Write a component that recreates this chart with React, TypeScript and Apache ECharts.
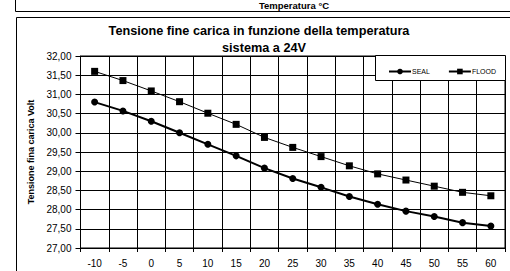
import React, { useEffect, useRef } from "react";
import * as echarts from "echarts";

const categories = ["-10", "-5", "0", "5", "10", "15", "20", "25", "30", "35", "40", "45", "50", "55", "60"];
const sealValues = [30.8, 30.57, 30.3, 30.0, 29.7, 29.4, 29.08, 28.81, 28.58, 28.34, 28.14, 27.96, 27.82, 27.66, 27.57];
const floodValues = [31.6, 31.36, 31.09, 30.81, 30.51, 30.22, 29.88, 29.62, 29.38, 29.14, 28.93, 28.77, 28.61, 28.45, 28.36];
const titleLine1 = "Tensione fine carica in funzione della temperatura";
const titleLine2 = "sistema a 24V";
const yTitle = "Tensione fina carica Volt";
const prevXTitle = "Temperatura °C";

const FONT = "'Liberation Sans', Arial, sans-serif";

export default function App() {
  const ref = useRef<HTMLDivElement>(null);
  useEffect(() => {
    if (!ref.current) return;
    const chart = echarts.init(ref.current, null, { renderer: "svg" });
    chart.setOption({
      animation: false,
      backgroundColor: "#ffffff",
      textStyle: { fontFamily: FONT },
      grid: {
        left: 80.5,
        top: 56,
        right: 5,
        bottom: 23,
        show: true,
        borderColor: "#000",
        borderWidth: 1,
        backgroundColor: "transparent",
      },
      xAxis: {
        type: "category",
        data: categories,
        boundaryGap: true,
        axisLine: { show: true, lineStyle: { color: "#000", width: 1 } },
        axisTick: { show: true, length: 4, interval: 0, lineStyle: { color: "#000" } },
        axisLabel: { interval: 0, color: "#000", fontSize: 10, fontFamily: FONT, margin: 10 },
        splitLine: { show: true, interval: 0, lineStyle: { color: "#000", width: 1 } },
      },
      yAxis: {
        type: "value",
        min: 27,
        max: 32,
        interval: 0.5,
        name: yTitle,
        nameLocation: "middle",
        nameRotate: 90,
        nameGap: 45,
        nameTextStyle: { fontSize: 9, fontWeight: "bold", color: "#000", fontFamily: FONT },
        axisLine: { show: true, lineStyle: { color: "#000", width: 1 } },
        axisTick: { show: true, length: 5, lineStyle: { color: "#000" } },
        axisLabel: {
          color: "#000",
          fontSize: 10,
          fontFamily: FONT,
          margin: 9,
          formatter: (v: number) => v.toFixed(2).replace(".", ","),
        },
        splitLine: { show: true, lineStyle: { color: "#000", width: 1 } },
      },
      legend: {
        left: 383,
        top: 63,
        z: 10,
        itemWidth: 22,
        itemHeight: 7,
        itemGap: 18,
        textStyle: { fontSize: 7, color: "#000", fontFamily: FONT, padding: [0, 0, 0, -4] },
        data: ["SEAL", "FLOOD"],
      },
      graphic: [
        {
          type: "rect",
          z: 0,
          shape: { x: 15.5, y: -5, width: 510, height: 16.5 },
          style: { fill: "#fff", stroke: "#000", lineWidth: 1 },
        },
        {
          type: "text",
          z: 1,
          x: 294,
          y: 5.5,
          style: {
            text: prevXTitle,
            fontSize: 9.5,
            fontWeight: "bold",
            fontFamily: FONT,
            fill: "#000",
            align: "center",
            verticalAlign: "middle",
          },
        },
        {
          type: "rect",
          z: -1,
          silent: true,
          shape: { x: 16.5, y: 17.5, width: 510, height: 270 },
          style: { fill: "transparent", stroke: "#000", lineWidth: 1 },
        },
        {
          type: "text",
          x: 259,
          y: 31,
          style: {
            text: titleLine1,
            fontSize: 12.7,
            fontWeight: "bold",
            fontFamily: FONT,
            fill: "#000",
            align: "center",
            verticalAlign: "middle",
          },
        },
        {
          type: "text",
          x: 264,
          y: 48,
          style: {
            text: titleLine2,
            fontSize: 12.7,
            fontWeight: "bold",
            fontFamily: FONT,
            fill: "#000",
            align: "center",
            verticalAlign: "middle",
          },
        },
        {
          type: "rect",
          z: 9,
          shape: { x: 375.5, y: 55.5, width: 130, height: 25 },
          style: { fill: "#fff", stroke: "#000", lineWidth: 1 },
        },
      ],
      series: [
        {
          name: "SEAL",
          type: "line",
          data: sealValues,
          symbol: "circle",
          symbolSize: 7,
          lineStyle: { color: "#000", width: 2 },
          itemStyle: { color: "#000" },
          z: 3,
        },
        {
          name: "FLOOD",
          type: "line",
          data: floodValues,
          symbol: "rect",
          symbolSize: 7,
          lineStyle: { color: "#000", width: 1 },
          itemStyle: { color: "#000" },
          z: 3,
        },
      ],
    });
    return () => chart.dispose();
  }, []);
  return (
    <div
      ref={ref}
      style={{ position: "fixed", left: 0, top: 0, width: 510, height: 271 }}
    />
  );
}
